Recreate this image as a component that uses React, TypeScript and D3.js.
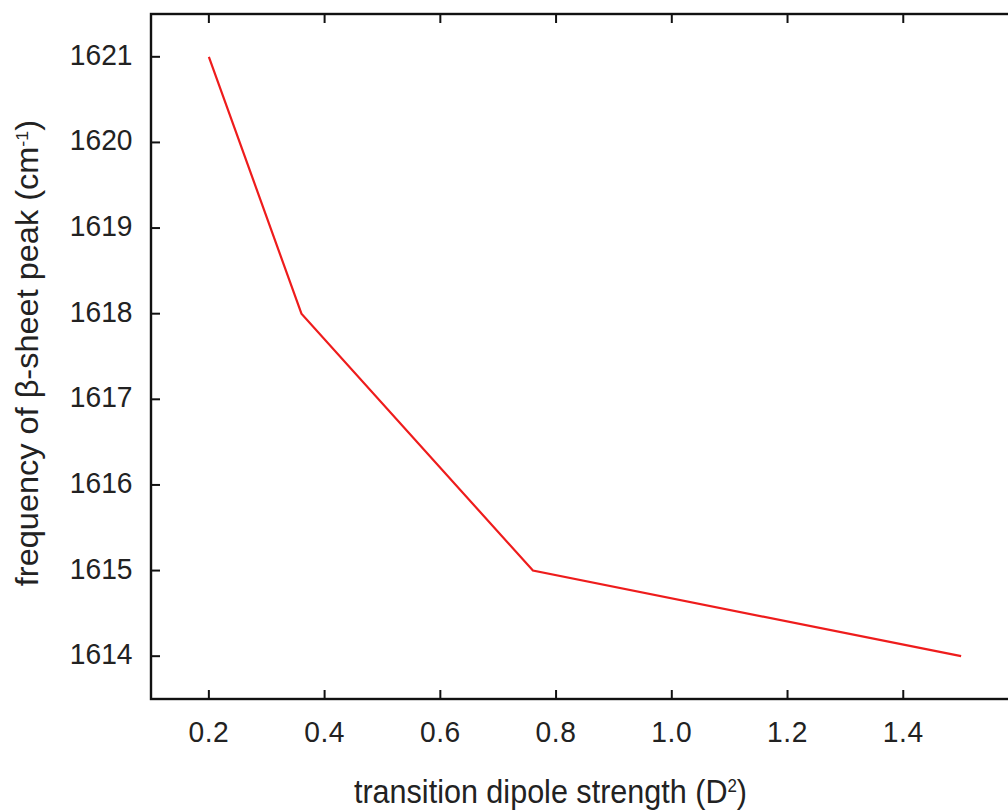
import React from "react";
import * as d3 from "d3";

const dipoleStrength = [0.2, 0.36, 0.76, 1.5];
const peakFrequency = [1621, 1618, 1615, 1614];
const xTicks = [0.2, 0.4, 0.6, 0.8, 1.0, 1.2, 1.4];
const yTicks = [1614, 1615, 1616, 1617, 1618, 1619, 1620, 1621];

const W = 1008;
const H = 811;
const left = 151;
const top = 14;
const bottom = 699;
const right = 1019;
// glyphs are slightly narrower than they are tall
const squeeze = 0.94;

export default function App() {
  const x = d3.scaleLinear().domain([0.1, 1.6]).range([left, right]);
  const y = d3.scaleLinear().domain([1613.5, 1621.5]).range([bottom, top]);
  const pts = dipoleStrength.map((d, i) => [d, peakFrequency[i]] as [number, number]);
  const line = d3.line<[number, number]>().x((d) => x(d[0])).y((d) => y(d[1]));
  const font = "Liberation Sans, Arial, sans-serif";
  const tickLen = 9;
  const ink = "#222";
  return (
    <svg
      width={W}
      height={H}
      style={{ position: "absolute", left: 0, top: 0, background: "#fff" }}
      fontFamily={font}
    >
      <rect x={0} y={0} width={W} height={H} fill="#fff" />
      <path d={line(pts) ?? ""} fill="none" stroke="#ee1c1c" strokeWidth={2.2} />
      {/* frame */}
      <rect x={left} y={top} width={right - left} height={bottom - top} fill="none" stroke="#111" strokeWidth={2.4} />
      {xTicks.map((t) => (
        <g key={"x" + t}>
          <line x1={x(t)} x2={x(t)} y1={bottom} y2={bottom - tickLen} stroke="#111" strokeWidth={2} />
          <line x1={x(t)} x2={x(t)} y1={top} y2={top + tickLen} stroke="#111" strokeWidth={2} />
          <g transform={`translate(${x(t)}, 741.5) scale(${squeeze}, 1)`}>
            <text x={0} y={0} textAnchor="middle" fontSize={30} fill={ink} letterSpacing={0.6}>
              {t.toFixed(1)}
            </text>
          </g>
        </g>
      ))}
      {yTicks.map((t) => (
        <g key={"y" + t}>
          <line x1={left} x2={left + tickLen} y1={y(t)} y2={y(t)} stroke="#111" strokeWidth={2} />
          <g transform={`translate(132.5, ${y(t) + 8}) scale(${squeeze}, 1)`}>
            <text x={0} y={0} textAnchor="end" fontSize={30} fill={ink}>
              {t}
            </text>
          </g>
        </g>
      ))}
      <g transform={`translate(550.5, 803) scale(${squeeze}, 1)`}>
        <text x={0} y={0} textAnchor="middle" fontSize={32.5} fill={ink}>
          transition dipole strength (D
          <tspan dy={-11} fontSize={18}>2</tspan>
          <tspan dy={11}>)</tspan>
        </text>
      </g>
      <g transform={`translate(38, 353) scale(${squeeze}, 1) rotate(-90)`}>
        <text x={0} y={0} textAnchor="middle" fontSize={32.5} fill={ink}>
          frequency of β-sheet peak (cm
          <tspan dy={-11} fontSize={18}>-1</tspan>
          <tspan dy={11}>)</tspan>
        </text>
      </g>
    </svg>
  );
}
